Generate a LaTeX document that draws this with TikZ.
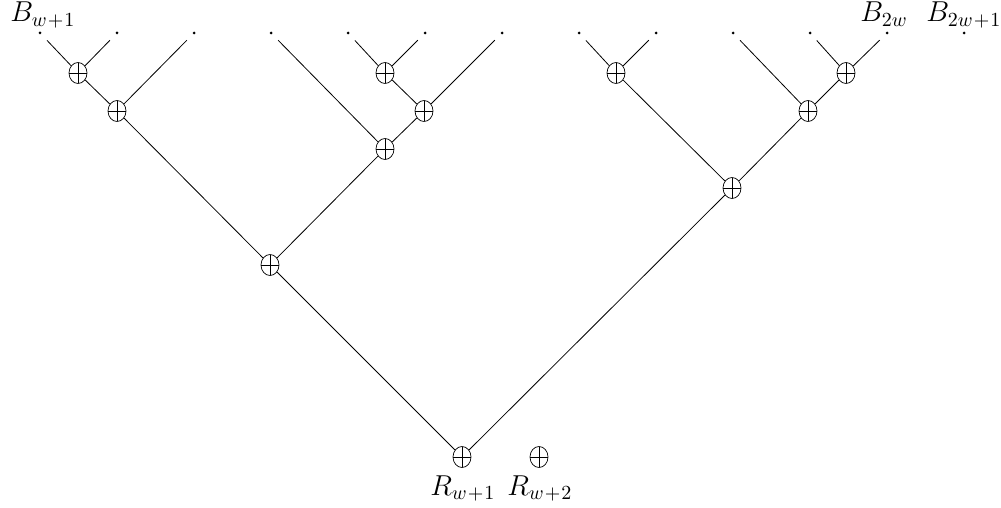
\documentclass[tikz,border=0pt]{standalone}
\usetikzlibrary{shapes.geometric}
\tikzset{
  leaf/.style={circle, fill=black, inner sep=0pt, minimum size=1.5pt, outer sep=4.3pt},
  oplus/.style={ellipse, draw, line width=0.35pt, inner sep=0pt, minimum width=9pt, minimum height=10.5pt,
    path picture={\draw[line width=0.35pt] (path picture bounding box.north) -- (path picture bounding box.south)
      (path picture bounding box.west) -- (path picture bounding box.east);}},
  wire/.style={line width=0.4pt},
  lbl/.style={anchor=base west, inner sep=0pt, font=\fontsize{13.5}{16}\selectfont}
}
\DeclareMathSizes{13.5}{13.5}{10}{7}
\newcommand{\pl}{\mkern1mu+\mkern1mu}
\begin{document}
\begin{tikzpicture}[x=0.5pt, y=-0.5pt]
\useasboundingbox (0,0) rectangle (1001,508);
% leaves
\foreach \i in {0,...,12} {
  \node[leaf] (l\i) at ({40+77*\i},33) {};
}
% internal nodes
\node[oplus] (a1) at (78,73) {};
\node[oplus] (a2) at (117,111) {};
\node[oplus] (b1) at (385,73) {};
\node[oplus] (b2) at (424,111) {};
\node[oplus] (b3) at (385,149) {};
\node[oplus] (c1) at (270,265) {};
\node[oplus] (d1) at (616,73) {};
\node[oplus] (e1) at (846,73) {};
\node[oplus] (e2) at (808,111) {};
\node[oplus] (d2) at (732,188) {};
\node[oplus] (r1) at (462,457) {};
\node[oplus] (r2) at (539,457) {};
% connectors
\draw[wire] (l0) -- (a1);
\draw[wire] (l1) -- (a1);
\draw[wire] (a1) -- (a2);
\draw[wire] (l2) -- (a2);
\draw[wire] (l4) -- (b1);
\draw[wire] (l5) -- (b1);
\draw[wire] (b1) -- (b2);
\draw[wire] (l6) -- (b2);
\draw[wire] (b2) -- (b3);
\draw[wire] (l3) -- (b3);
\draw[wire] (a2) -- (c1);
\draw[wire] (b3) -- (c1);
\draw[wire] (l7) -- (d1);
\draw[wire] (l8) -- (d1);
\draw[wire] (l10) -- (e1);
\draw[wire] (l11) -- (e1);
\draw[wire] (e1) -- (e2);
\draw[wire] (l9) -- (e2);
\draw[wire] (d1) -- (d2);
\draw[wire] (e2) -- (d2);
\draw[wire] (c1) -- (r1);
\draw[wire] (d2) -- (r1);
% labels
\node[lbl] (tb1) at (10,22) {$B_{w\pl 1}$};
\node[lbl] (tb2) at (860,22) {$B_{2w}$};
\node[lbl] (tb3) at (926,22) {$B_{2w\pl 1}$};
\node[lbl] (tr1) at (430,495) {$R_{w\pl 1}$};
\node[lbl] (tr2) at (507,495) {$R_{w\pl 2}$};
\end{tikzpicture}
\end{document}
